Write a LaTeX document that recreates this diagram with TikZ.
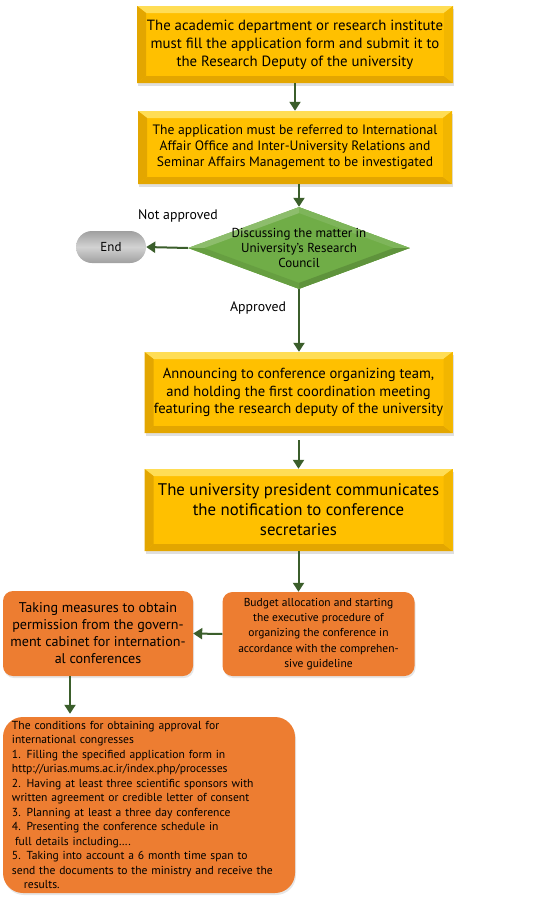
\documentclass[tikz,border=0pt]{standalone}
\usepackage{fontspec}
\setmainfont{PT Sans}
\usetikzlibrary{shapes.geometric}
\usetikzlibrary{shapes.misc}
\usetikzlibrary{positioning}
\usetikzlibrary{arrows.meta}
\usetikzlibrary{shadows}
\definecolor{gold}{HTML}{FFC000}
\definecolor{goldlight}{HTML}{FFDD55}
\definecolor{golddark}{HTML}{E3A600}
\definecolor{goldmid}{HTML}{F2B600}
\definecolor{boxorange}{HTML}{ED7D31}
\definecolor{leafgreen}{HTML}{70AD47}
\definecolor{arrowgreen}{HTML}{3B5E2B}
\tikzset{
    mynodey/.style = {rectangle, fill=gold, align=center, inner sep=0pt, text=black,
      drop shadow={opacity=0.25, shadow xshift=1pt, shadow yshift=-3pt},
      path picture={
        \path (path picture bounding box.north west) coordinate (bnw)
              (path picture bounding box.south east) coordinate (bse);
        \fill[goldlight] (bnw) -- (bnw-|bse) -- ([shift={(-9pt,-7pt)}]bnw-|bse) -- ([shift={(9pt,-7pt)}]bnw) -- cycle;
        \fill[golddark] (bnw) -- ([shift={(9pt,-7pt)}]bnw) -- ([shift={(9pt,7pt)}]bnw|-bse) -- (bnw|-bse) -- cycle;
        \fill[golddark] (bnw|-bse) -- ([shift={(9pt,7pt)}]bnw|-bse) -- ([shift={(-9pt,7pt)}]bse) -- (bse) -- cycle;
        \fill[goldmid] (bse) -- ([shift={(-9pt,7pt)}]bse) -- ([shift={(-9pt,-7pt)}]bnw-|bse) -- (bnw-|bse) -- cycle;
      }},
    mynodeo/.style = {rectangle, rounded corners=10pt, fill=boxorange, text=black, inner sep=0pt,
      drop shadow={opacity=0.2, shadow xshift=1pt, shadow yshift=-2pt}},
    mynoded/.style = {diamond, fill=leafgreen, aspect=2.7, inner sep=-6pt, align=center, text=black,
      path picture={
        \path (path picture bounding box.west) coordinate (dw)
              (path picture bounding box.east) coordinate (de)
              (path picture bounding box.north) coordinate (dn)
              (path picture bounding box.south) coordinate (ds);
        \fill[leafgreen!80!white] (dw) -- (dn) -- ([yshift=-6pt]dn) -- ([xshift=16pt]dw) -- cycle;
        \fill[leafgreen!90!white] (dn) -- (de) -- ([xshift=-16pt]de) -- ([yshift=-6pt]dn) -- cycle;
        \fill[leafgreen!85!black] (de) -- (ds) -- ([yshift=6pt]ds) -- ([xshift=-16pt]de) -- cycle;
        \fill[leafgreen!92!black] (ds) -- (dw) -- ([xshift=16pt]dw) -- ([yshift=6pt]ds) -- cycle;
      }},
    mynodee/.style = {rounded rectangle, top color=gray!75, bottom color=gray!75, middle color=gray!35,
      minimum width=70pt, minimum height=32pt, inner sep=0pt, text=black},
    edgea/.style = {-{Triangle[length=9pt,width=11pt]}, line width=2pt, arrowgreen},
    labeltext/.style = {font=\fontsize{13.8}{16}\selectfont, text=black}
}
\begin{document}
\begin{tikzpicture}[x=1pt, y=1pt]
  \useasboundingbox (0,0) rectangle (550,-897);
  \node[mynodey, minimum width=316pt, minimum height=77pt, font=\fontsize{14.8}{18}\selectfont] (b1) at (295,-44.5)
    {The academic department or research institute\\must fill the application form and submit it to\\the Research Deputy of the university};
  \node[mynodey, minimum width=314pt, minimum height=73pt, font=\fontsize{13.6}{16}\selectfont] (b2) at (295,-147.5)
    {The application must be referred to International\\Affair Office and Inter-University Relations and\\Seminar Affairs Management to be investigated};
  \node[mynoded, minimum width=222pt, minimum height=82pt, font=\fontsize{13}{15}\selectfont] (dec) at (299,-248)
    {Discussing the matter in\\University's Research\\Council};
  \node[mynodee, font=\fontsize{13}{15}\selectfont] (end) at (111,-247) {End};
  \node[labeltext] (nap) at (178,-216) {Not approved};
  \node[labeltext] (ap) at (258,-308) {Approved};
  \node[mynodey, minimum width=308pt, minimum height=81pt, font=\fontsize{14.6}{17.5}\selectfont] (b3) at (298.5,-392.5)
    {Announcing to conference organizing team,\\and holding the first coordination meeting\\featuring the research deputy of the university};
  \node[mynodey, minimum width=308pt, minimum height=82pt, font=\fontsize{16.8}{20}\selectfont] (b4) at (298.5,-510)
    {The university president communicates\\the notification to conference\\secretaries};
  \node[mynodeo, minimum width=192pt, minimum height=84pt, align=center, font=\fontsize{11.5}{15.3}\selectfont] (or) at (318.5,-634)
    {Budget allocation and starting\\the executive procedure of\\organizing the conference in\\accordance with the comprehen-\\sive guideline};
  \node[mynodeo, minimum width=190pt, minimum height=85pt, align=center, font=\fontsize{14.1}{17}\selectfont] (ol) at (98,-633.5)
    {Taking measures to obtain\\permission from the govern-\\ment cabinet for internation-\\al conferences};
  \node[mynodeo, rounded corners=20pt, text width=274pt, inner xsep=9pt, minimum height=176pt, align=left, font=\fontsize{11.6}{14.5}\selectfont] (cond) at (149,-805)
    {The conditions for obtaining approval for\\international congresses\\1. Filling the specified application form in\\http://urias.mums.ac.ir/index.php/processes\\2. Having at least three scientific sponsors with\\written agreement or credible letter of consent\\3. Planning at least a three day conference\\4. Presenting the conference schedule in\\\hspace{3pt}full details including….\\5. Taking into account a 6 month time span to\\send the documents to the ministry and receive the\\\hspace{12pt}results.};

  \draw[edgea] (b1) -- (b2);
  \draw[edgea] (b2.south -| dec.north) -- (dec.north);
  \draw[edgea] (dec.west) -- (end.east);
  \draw[edgea] (dec.south) -- (dec.south |- b3.north);
  \draw[edgea, shorten <=7pt] (b3.south) -- (b4.north);
  \draw[edgea] (b4.south) -- (b4.south |- or.north);
  \draw[edgea] (or.west) -- (ol.east);
  \draw[edgea, shorten >=3pt] ([xshift=-28pt]ol.south) -- ([xshift=-28pt]ol.south |- cond.north);
\end{tikzpicture}
\end{document}
